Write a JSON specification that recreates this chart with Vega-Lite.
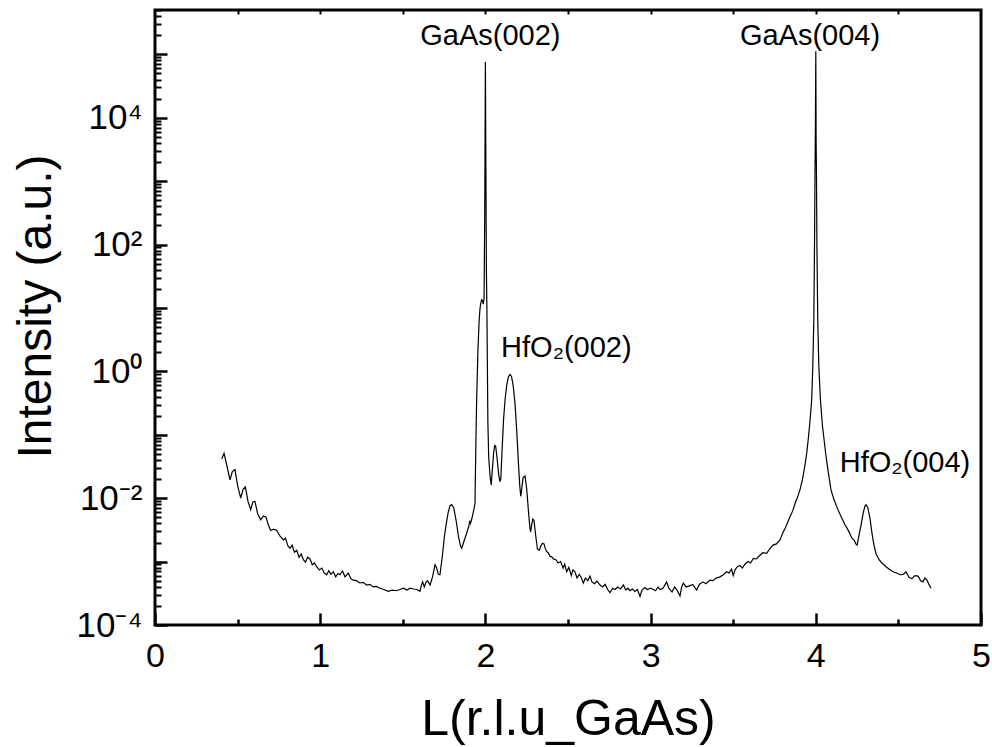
{
  "$schema": "https://vega.github.io/schema/vega-lite/v6.json",
  "autosize": {"type": "none"},
  "padding": {"left": 155, "top": 10, "right": 11, "bottom": 122},
  "width": 826,
  "height": 615,
  "config": {
    "font": "Liberation Sans",
    "view": {"stroke": "black", "strokeWidth": 3},
    "axis": {"grid": false, "domain": false, "tickColor": "black", "labelColor": "black", "titleColor": "black", "titleFontWeight": "normal"}
  },
  "datasets": {
    "scan": [
      {"L":0.404,"I":0.0417},{"L":0.418,"I":0.0513},{"L":0.436,"I":0.0316},{"L":0.454,"I":0.0195},
      {"L":0.468,"I":0.0263},{"L":0.484,"I":0.0282},{"L":0.5,"I":0.0158},{"L":0.519,"I":0.01},
      {"L":0.533,"I":0.0138},{"L":0.547,"I":0.0151},{"L":0.563,"I":0.0089},{"L":0.579,"I":0.0066},
      {"L":0.592,"I":0.0087},{"L":0.605,"I":0.0089},{"L":0.622,"I":0.0056},{"L":0.64,"I":0.00457},
      {"L":0.656,"I":0.00525},{"L":0.672,"I":0.005},{"L":0.686,"I":0.0038},{"L":0.7,"I":0.00309},
      {"L":0.718,"I":0.00324},{"L":0.737,"I":0.00309},{"L":0.757,"I":0.00251},{"L":0.777,"I":0.00219},
      {"L":0.79,"I":0.00234},{"L":0.804,"I":0.00178},{"L":0.817,"I":0.00162},{"L":0.83,"I":0.00182},
      {"L":0.844,"I":0.00141},{"L":0.858,"I":0.00151},{"L":0.872,"I":0.00117},{"L":0.885,"I":0.00132},
      {"L":0.898,"I":0.00107},{"L":0.911,"I":0.00098},{"L":0.924,"I":0.00117},{"L":0.938,"I":0.0011},
      {"L":0.952,"I":0.00089},{"L":0.965,"I":0.00095},{"L":0.979,"I":0.00083},{"L":0.995,"I":0.00074},
      {"L":1.01,"I":0.00079},{"L":1.025,"I":0.00066},{"L":1.039,"I":0.00062},{"L":1.052,"I":0.00072},
      {"L":1.065,"I":0.00063},{"L":1.079,"I":0.00069},{"L":1.094,"I":0.000575},{"L":1.107,"I":0.00065},
      {"L":1.12,"I":0.00062},{"L":1.135,"I":0.00071},{"L":1.15,"I":0.000575},{"L":1.17,"I":0.00066},
      {"L":1.185,"I":0.00054},{"L":1.2,"I":0.00051},{"L":1.22,"I":0.0005},{"L":1.24,"I":0.00046},
      {"L":1.26,"I":0.00047},{"L":1.281,"I":0.000427},{"L":1.3,"I":0.000437},{"L":1.32,"I":0.000398},
      {"L":1.34,"I":0.000407},{"L":1.362,"I":0.00038},{"L":1.385,"I":0.000363},{"L":1.412,"I":0.000339},
      {"L":1.435,"I":0.000355},{"L":1.46,"I":0.000347},{"L":1.483,"I":0.000363},{"L":1.505,"I":0.00038},
      {"L":1.525,"I":0.000355},{"L":1.544,"I":0.00038},{"L":1.565,"I":0.00037},{"L":1.585,"I":0.000363},
      {"L":1.604,"I":0.000339},{"L":1.612,"I":0.000417},{"L":1.62,"I":0.000479},{"L":1.63,"I":0.000398},
      {"L":1.64,"I":0.000468},{"L":1.648,"I":0.0005},{"L":1.654,"I":0.000479},{"L":1.665,"I":0.000427},
      {"L":1.68,"I":0.000575},{"L":1.695,"I":0.00089},{"L":1.705,"I":0.00079},{"L":1.715,"I":0.00063},
      {"L":1.725,"I":0.00062},{"L":1.74,"I":0.00126},{"L":1.752,"I":0.00251},{"L":1.762,"I":0.0038},
      {"L":1.775,"I":0.006},{"L":1.786,"I":0.0076},{"L":1.796,"I":0.0079},{"L":1.808,"I":0.0071},
      {"L":1.822,"I":0.00457},{"L":1.838,"I":0.0024},{"L":1.85,"I":0.00174},{"L":1.857,"I":0.00162},
      {"L":1.868,"I":0.002},{"L":1.883,"I":0.00263},{"L":1.895,"I":0.0033},{"L":1.9,"I":0.0036},
      {"L":1.905,"I":0.0044},{"L":1.91,"I":0.004},{"L":1.92,"I":0.005},{"L":1.93,"I":0.0066},
      {"L":1.937,"I":0.0083},{"L":1.942,"I":0.063},{"L":1.947,"I":0.355},{"L":1.955,"I":2.19},
      {"L":1.962,"I":6.3},{"L":1.967,"I":9.5},{"L":1.972,"I":12},{"L":1.977,"I":13.5},
      {"L":1.982,"I":13.2},{"L":1.987,"I":11.5},{"L":1.992,"I":14.1},{"L":1.996,"I":316},
      {"L":2.0,"I":75900},{"L":2.003,"I":1585},{"L":2.006,"I":40},{"L":2.009,"I":10},
      {"L":2.012,"I":1.26},{"L":2.015,"I":0.158},{"L":2.02,"I":0.0447},{"L":2.028,"I":0.0224},
      {"L":2.035,"I":0.0162},{"L":2.042,"I":0.0282},{"L":2.05,"I":0.0525},{"L":2.056,"I":0.0676},
      {"L":2.062,"I":0.066},{"L":2.07,"I":0.0447},{"L":2.08,"I":0.024},{"L":2.088,"I":0.0182},
      {"L":2.093,"I":0.02},{"L":2.1,"I":0.05},{"L":2.11,"I":0.178},{"L":2.12,"I":0.38},
      {"L":2.13,"I":0.63},{"L":2.14,"I":0.83},{"L":2.149,"I":0.89},{"L":2.158,"I":0.83},
      {"L":2.168,"I":0.6},{"L":2.179,"I":0.316},{"L":2.19,"I":0.112},{"L":2.2,"I":0.0355},
      {"L":2.208,"I":0.0158},{"L":2.214,"I":0.0107},{"L":2.22,"I":0.0141},{"L":2.228,"I":0.0209},
      {"L":2.24,"I":0.0224},{"L":2.25,"I":0.0141},{"L":2.262,"I":0.0056},{"L":2.27,"I":0.0033},
      {"L":2.274,"I":0.00295},{"L":2.28,"I":0.0038},{"L":2.287,"I":0.00468},{"L":2.294,"I":0.00447},
      {"L":2.305,"I":0.00251},{"L":2.315,"I":0.00158},{"L":2.326,"I":0.00151},{"L":2.335,"I":0.00174},
      {"L":2.345,"I":0.00195},{"L":2.355,"I":0.0019},{"L":2.361,"I":0.00166},{"L":2.37,"I":0.00145},
      {"L":2.38,"I":0.00138},{"L":2.392,"I":0.0012},{"L":2.401,"I":0.0012},{"L":2.412,"I":0.0011},
      {"L":2.427,"I":0.00107},{"L":2.44,"I":0.00095},{"L":2.455,"I":0.001},{"L":2.47,"I":0.00079},
      {"L":2.48,"I":0.00091},{"L":2.492,"I":0.00069},{"L":2.505,"I":0.00081},{"L":2.52,"I":0.0006},
      {"L":2.53,"I":0.00074},{"L":2.542,"I":0.00069},{"L":2.555,"I":0.00055},{"L":2.568,"I":0.00063},
      {"L":2.58,"I":0.00056},{"L":2.593,"I":0.000457},{"L":2.605,"I":0.00055},{"L":2.62,"I":0.0005},
      {"L":2.633,"I":0.00059},{"L":2.645,"I":0.000479},{"L":2.66,"I":0.000447},{"L":2.675,"I":0.00049},
      {"L":2.694,"I":0.000427},{"L":2.71,"I":0.000398},{"L":2.725,"I":0.000437},{"L":2.74,"I":0.000363},
      {"L":2.754,"I":0.000324},{"L":2.77,"I":0.00038},{"L":2.785,"I":0.000363},{"L":2.8,"I":0.000398},
      {"L":2.818,"I":0.00037},{"L":2.835,"I":0.000427},{"L":2.85,"I":0.000355},{"L":2.862,"I":0.00038},
      {"L":2.875,"I":0.000347},{"L":2.89,"I":0.00037},{"L":2.905,"I":0.000339},{"L":2.92,"I":0.000363},
      {"L":2.936,"I":0.000282},{"L":2.948,"I":0.000355},{"L":2.966,"I":0.00039},{"L":2.98,"I":0.000363},
      {"L":3.0,"I":0.00038},{"L":3.016,"I":0.000363},{"L":3.03,"I":0.000347},{"L":3.045,"I":0.000398},
      {"L":3.057,"I":0.000363},{"L":3.075,"I":0.00038},{"L":3.097,"I":0.000479},{"L":3.11,"I":0.00038},
      {"L":3.13,"I":0.000331},{"L":3.145,"I":0.000398},{"L":3.16,"I":0.000355},{"L":3.178,"I":0.000288},
      {"L":3.188,"I":0.000398},{"L":3.198,"I":0.000457},{"L":3.215,"I":0.000398},{"L":3.238,"I":0.000417},
      {"L":3.255,"I":0.000437},{"L":3.279,"I":0.000355},{"L":3.295,"I":0.000437},{"L":3.317,"I":0.000479},
      {"L":3.335,"I":0.000447},{"L":3.359,"I":0.00051},{"L":3.378,"I":0.0005},{"L":3.396,"I":0.00055},
      {"L":3.42,"I":0.000575},{"L":3.44,"I":0.00062},{"L":3.46,"I":0.00069},{"L":3.475,"I":0.00066},
      {"L":3.49,"I":0.00076},{"L":3.5,"I":0.0006},{"L":3.511,"I":0.00074},{"L":3.525,"I":0.00083},
      {"L":3.541,"I":0.00087},{"L":3.555,"I":0.00079},{"L":3.571,"I":0.00091},{"L":3.59,"I":0.001},
      {"L":3.605,"I":0.00095},{"L":3.622,"I":0.00112},{"L":3.64,"I":0.0011},{"L":3.662,"I":0.00126},
      {"L":3.68,"I":0.00138},{"L":3.703,"I":0.00135},{"L":3.72,"I":0.00158},{"L":3.741,"I":0.00182},
      {"L":3.762,"I":0.0019},{"L":3.783,"I":0.00219},{"L":3.8,"I":0.00282},{"L":3.815,"I":0.0034},
      {"L":3.83,"I":0.00417},{"L":3.844,"I":0.0051},{"L":3.86,"I":0.0063},{"L":3.875,"I":0.0083},
      {"L":3.89,"I":0.0105},{"L":3.904,"I":0.0135},{"L":3.918,"I":0.0191},{"L":3.932,"I":0.0302},
      {"L":3.945,"I":0.0513},{"L":3.955,"I":0.089},{"L":3.965,"I":0.166},{"L":3.975,"I":0.355},
      {"L":3.982,"I":1.26},{"L":3.988,"I":6.3},{"L":3.992,"I":83},{"L":3.995,"I":1070},
      {"L":3.998,"I":10000},{"L":4.0,"I":112000},{"L":4.002,"I":3980},{"L":4.004,"I":1290},
      {"L":4.007,"I":83},{"L":4.012,"I":6.3},{"L":4.018,"I":1.26},{"L":4.028,"I":0.355},
      {"L":4.04,"I":0.141},{"L":4.059,"I":0.0525},{"L":4.075,"I":0.0263},{"L":4.092,"I":0.0135},
      {"L":4.11,"I":0.0095},{"L":4.134,"I":0.0066},{"L":4.155,"I":0.005},{"L":4.177,"I":0.0038},
      {"L":4.195,"I":0.00316},{"L":4.21,"I":0.00263},{"L":4.219,"I":0.00234},{"L":4.232,"I":0.00219},
      {"L":4.242,"I":0.0019},{"L":4.25,"I":0.00182},{"L":4.262,"I":0.00263},{"L":4.274,"I":0.0038},
      {"L":4.288,"I":0.006},{"L":4.298,"I":0.0076},{"L":4.304,"I":0.0079},{"L":4.315,"I":0.0071},
      {"L":4.328,"I":0.00479},{"L":4.34,"I":0.00282},{"L":4.352,"I":0.00182},{"L":4.365,"I":0.00132},
      {"L":4.383,"I":0.00107},{"L":4.4,"I":0.00095},{"L":4.425,"I":0.00083},{"L":4.445,"I":0.00076},
      {"L":4.467,"I":0.00069},{"L":4.49,"I":0.00066},{"L":4.51,"I":0.00062},{"L":4.53,"I":0.00063},
      {"L":4.546,"I":0.00069},{"L":4.565,"I":0.00056},{"L":4.582,"I":0.00054},{"L":4.6,"I":0.0006},
      {"L":4.619,"I":0.00059},{"L":4.635,"I":0.0005},{"L":4.649,"I":0.000479},{"L":4.66,"I":0.00055},
      {"L":4.673,"I":0.00051},{"L":4.685,"I":0.000437},{"L":4.697,"I":0.00038}
    ],
    "peaks": [
      {"L":2.03,"I":195000,"name":"GaAs(002)"},
      {"L":3.965,"I":195000,"name":"GaAs(004)"},
      {"L":2.49,"I":2.3,"name":"HfO₂(002)"},
      {"L":4.54,"I":0.036,"name":"HfO₂(004)"}
    ]
  },
  "resolve": {"axis": {"x": "independent", "y": "independent"}},
  "layer": [
    {
      "data": {"name": "scan"},
      "mark": {"type": "line", "color": "black", "strokeWidth": 1.2, "clip": true},
      "encoding": {
        "x": {
          "field": "L", "type": "quantitative",
          "scale": {"domain": [0, 5], "nice": false, "zero": false},
          "axis": {
            "orient": "bottom", "values": [0, 1, 2, 3, 4, 5], "format": "d",
            "tickSize": -12, "tickWidth": 2.5, "labelPadding": 26,
            "labelFontSize": 34, "labelFlush": false,
            "title": "L(r.l.u_GaAs)", "titleFontSize": 50,
            "titleBaseline": "alphabetic", "titleY": 109
          }
        },
        "y": {
          "field": "I", "type": "quantitative",
          "scale": {"type": "log", "domain": [0.0001, 500000], "nice": false},
          "axis": {
            "orient": "left",
            "values": [0.0001, 0.001, 0.01, 0.1, 1, 10, 100, 1000, 10000, 100000],
            "labelExpr": "datum.value == 0.0001 ? '10⁻⁴' : datum.value == 0.01 ? '10⁻²' : datum.value == 1 ? '10⁰' : datum.value == 100 ? '10²' : datum.value == 10000 ? '10⁴' : ''",
            "tickSize": -12, "tickWidth": 2.5, "labelPadding": 25,
            "labelFontSize": 35, "labelFlush": false,
            "title": "Intensity (a.u.)", "titleFontSize": 48,
            "titleBaseline": "alphabetic", "titleX": -105, "titleY": 296
          }
        }
      }
    },
    {
      "data": {"name": "scan"},
      "mark": {"type": "line", "strokeOpacity": 0},
      "encoding": {
        "x": {
          "field": "L", "type": "quantitative",
          "scale": {"domain": [0, 5], "nice": false, "zero": false},
          "axis": {"orient": "bottom", "values": [0.5, 1.5, 2.5, 3.5, 4.5], "tickSize": -6, "tickWidth": 2.5, "labels": false, "title": null}
        },
        "y": {
          "field": "I", "type": "quantitative",
          "scale": {"type": "log", "domain": [0.0001, 500000], "nice": false},
          "axis": {
            "orient": "left", "labels": false, "title": null, "tickSize": -6, "tickWidth": 2,
            "values": [
              0.0002,0.0003,0.0004,0.0005,0.0006,0.0007,0.0008,0.0009,
              0.002,0.003,0.004,0.005,0.006,0.007,0.008,0.009,
              0.02,0.03,0.04,0.05,0.06,0.07,0.08,0.09,
              0.2,0.3,0.4,0.5,0.6,0.7,0.8,0.9,
              2,3,4,5,6,7,8,9,
              20,30,40,50,60,70,80,90,
              200,300,400,500,600,700,800,900,
              2000,3000,4000,5000,6000,7000,8000,9000,
              20000,30000,40000,50000,60000,70000,80000,90000,
              200000,300000,400000,500000
            ]
          }
        }
      }
    },
    {
      "data": {"name": "scan"},
      "mark": {"type": "line", "strokeOpacity": 0},
      "encoding": {
        "x": {
          "field": "L", "type": "quantitative",
          "scale": {"domain": [0, 5], "nice": false, "zero": false},
          "axis": {"orient": "top", "values": [0.5, 1, 1.5, 2, 2.5, 3, 3.5, 4, 4.5], "tickSize": -4, "tickWidth": 2, "labels": false, "title": null}
        },
        "y": {
          "field": "I", "type": "quantitative",
          "scale": {"type": "log", "domain": [0.0001, 500000], "nice": false},
          "axis": null
        }
      }
    },
    {
      "data": {"name": "peaks"},
      "mark": {"type": "text", "fontSize": 29, "color": "black", "align": "center", "baseline": "middle"},
      "encoding": {
        "x": {"field": "L", "type": "quantitative", "scale": {"domain": [0, 5], "nice": false, "zero": false}, "axis": null},
        "y": {"field": "I", "type": "quantitative", "scale": {"type": "log", "domain": [0.0001, 500000], "nice": false}, "axis": null},
        "text": {"field": "name"}
      }
    }
  ]
}
